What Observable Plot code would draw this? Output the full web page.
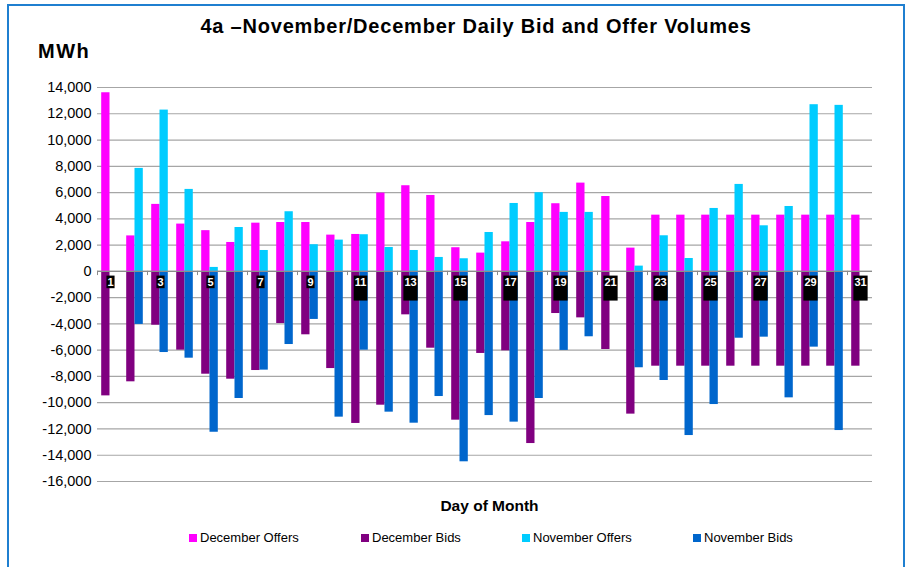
<!DOCTYPE html>
<html>
<head>
<meta charset="utf-8">
<script src="https://cdn.jsdelivr.net/npm/d3@7"></script>
<script src="https://cdn.jsdelivr.net/npm/@observablehq/plot@0.6"></script>
<style>
  html, body { margin: 0; padding: 0; background: #fff; }
  #wrap { position: relative; width: 909px; height: 567px; overflow: hidden; font-family: "Liberation Sans", Arial, sans-serif; }
  #frame { position: absolute; left: 7px; top: 4px; width: 898px; height: 600px; border: 2px solid #1f7fd0; box-sizing: border-box; }
  #chart { position: absolute; left: 0; top: 0; }
  .title { position: absolute; left: 0; width: 952px; top: 15px; text-align: center; font-weight: bold; font-size: 20px; letter-spacing: 0.8px; }
  .unit { position: absolute; left: 38px; top: 40px; font-weight: bold; font-size: 20px; letter-spacing: 1.5px; }
  .xlabel { position: absolute; left: 107px; width: 765px; top: 497px; text-align: center; font-weight: bold; font-size: 15.5px; }
  .legend { position: absolute; top: 530px; font-size: 13px; white-space: nowrap; }
  .legend span.sw { display: inline-block; width: 8px; height: 8px; margin-right: 3px; vertical-align: 0px; }
</style>
</head>
<body>
<div id="wrap">
  <div id="frame"></div>
  <div id="chart"></div>
  <div class="title">4a –November/December Daily Bid and Offer Volumes</div>
  <div class="unit">MWh</div>
  <div class="xlabel">Day of Month</div>
  <div id="legend"></div>
</div>
<script>
const days = [1,2,3,4,5,6,7,8,9,10,11,12,13,14,15,16,17,18,19,20,21,22,23,24,25,26,27,28,29,30,31];
const labelDays = [1,3,5,7,9,11,13,15,17,19,21,23,25,27,29,31];
const yTicks = [14000,12000,10000,8000,6000,4000,2000,0,-2000,-4000,-6000,-8000,-10000,-12000,-14000,-16000];

const decOffers = [13600,2700,5100,3600,3100,2200,3670,3720,3720,2760,2810,5960,6520,5780,1800,1390,2250,3720,5150,6720,5700,1770,4280,4280,4280,4280,4280,4280,4280,4280,4280];
const decBids = [-9480,-8410,-4100,-6000,-7830,-8210,-7550,-3970,-4830,-7400,-11580,-10190,-3310,-5850,-11330,-6250,-6050,-13110,-3210,-3540,-5950,-10870,-7220,-7220,-7220,-7220,-7220,-7220,-7220,-7220,-7220];
const novOffers = [null,7840,12280,6240,300,3340,1590,4540,2030,2380,2790,1820,1590,1060,960,2960,5170,5990,4490,4490,null,400,2710,980,4790,6620,3470,4940,12690,12640,null];
const novBids = [null,-4040,-6180,-6610,-12250,-9680,-7520,-5570,-3660,-11100,-6000,-10720,-11560,-9530,-14500,-10980,-11480,-9680,-6020,-4980,null,-7340,-8310,-12500,-10140,-5090,-5010,-9630,-5770,-12120,null];

const seriesNames = ["December Offers","December Bids","November Offers","November Bids"];
const seriesColors = ["#ff00ff","#800080","#00ccff","#0066cc"];
const legendX = [189, 361, 522, 693];

function rows(values) {
  return days.map((d, i) => ({day: d, value: values[i]})).filter(r => r.value != null);
}

const decSlot = {insetLeft: 4.2, insetRight: 12.5};
const novSlot = {insetLeft: 12.5, insetRight: 4.2};

const plot = Plot.plot({
  width: 909,
  height: 567,
  marginLeft: 97,
  marginRight: 37,
  marginTop: 87,
  marginBottom: 86,
  style: {fontFamily: "'Liberation Sans', Arial, sans-serif", background: "transparent"},
  x: {type: "band", domain: days, padding: 0, axis: null},
  y: {domain: [-16000, 14000], ticks: yTicks, tickFormat: d => d.toLocaleString("en-US"), label: null, tickSize: 0, tickPadding: 6},
  marks: [
    Plot.ruleY(yTicks, {stroke: "#a6a6a6", strokeWidth: 1.2}),
    Plot.axisY({ticks: yTicks, tickFormat: d => d.toLocaleString("en-US"), tickSize: 0, tickPadding: 6, fontSize: 14.5, fill: "#000", label: null}),
    Plot.barY(rows(decOffers), {x: "day", y1: 0, y2: "value", fill: seriesColors[0], ...decSlot}),
    Plot.barY(rows(decBids), {x: "day", y1: 0, y2: "value", fill: seriesColors[1], ...decSlot}),
    Plot.barY(rows(novOffers), {x: "day", y1: 0, y2: "value", fill: seriesColors[2], ...novSlot}),
    Plot.barY(rows(novBids), {x: "day", y1: 0, y2: "value", fill: seriesColors[3], ...novSlot}),
    Plot.ruleY([0], {stroke: "#8c8c8c", strokeWidth: 1.2}),
    Plot.ruleX(labelDays, {x: d => d, y1: 0, y2: -320, dx: -12.5, stroke: "#8c8c8c"}),
    Plot.text(labelDays, {x: d => d, y: 0, text: d => String(d), dy: 11, dx: 0.5, fill: "#fff", fontWeight: "bold", fontSize: 11})
  ]
});
document.getElementById("chart").appendChild(plot);

// black boxes behind the day labels
const svgNS = "http://www.w3.org/2000/svg";
const labelSet = new Set(labelDays.map(String));
plot.querySelectorAll('g[aria-label="text"] text').forEach(t => {
  if (!labelSet.has(t.textContent)) return;
  const b = t.getBBox();
  const two = t.textContent.length > 1;
  const r = document.createElementNS(svgNS, "rect");
  const w = b.width + 2;
  const top = b.y + b.height / 2 - 6.3;
  r.setAttribute("x", b.x + b.width / 2 - w / 2);
  r.setAttribute("y", top);
  r.setAttribute("width", w);
  r.setAttribute("height", two ? 25 : 12.6);
  r.setAttribute("fill", "#000");
  const tr = t.getAttribute("transform");
  if (tr) r.setAttribute("transform", tr);
  t.parentNode.insertBefore(r, t);
});

// legend
const leg = document.getElementById("legend");
seriesNames.forEach((name, i) => {
  const d = document.createElement("div");
  d.className = "legend";
  d.style.left = legendX[i] + "px";
  d.innerHTML = `<span class="sw" style="background:${seriesColors[i]}"></span>${name}`;
  leg.appendChild(d);
});
</script>
</body>
</html>
